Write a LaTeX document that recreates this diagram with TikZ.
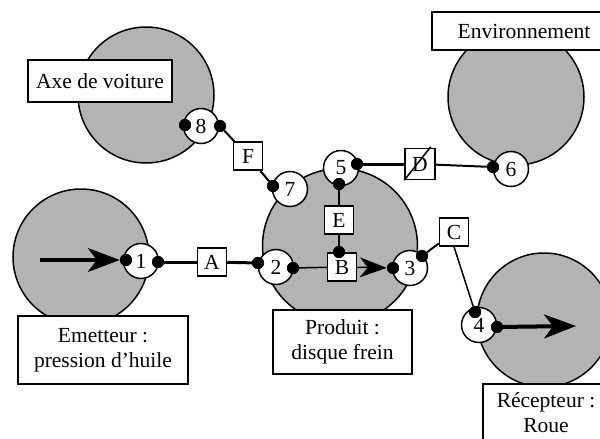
\documentclass[tikz,border=0pt]{standalone}
\usepackage{fontspec}
\setmainfont{Liberation Serif}
\usetikzlibrary{arrows.meta,calc}
\definecolor{disc}{RGB}{179,179,179}
\begin{document}
\begin{tikzpicture}[x=1pt,y=-1pt,
  bigc/.style={circle,draw,line width=1.5pt,fill=disc,inner sep=0pt},
  smallc/.style={circle,draw,line width=1.5pt,fill=white,minimum size=35pt,inner sep=0pt,font=\fontsize{21.5}{23}\selectfont},
  dot/.style={circle,fill=black,minimum size=12pt,inner sep=0pt},
  lbox/.style={draw,line width=1.5pt,fill=white,align=center,font=\fontsize{21.5}{25}\selectfont,inner sep=0pt},
  letter/.style={draw,line width=1.5pt,fill=white,minimum width=29pt,minimum height=28pt,inner sep=0pt,font=\fontsize{21.5}{23}\selectfont},
  thinl/.style={line width=1.5pt},
  medl/.style={line width=2pt},
  thickl/.style={line width=3pt},
  bigarrow/.style={line width=4pt,-{Stealth[length=32pt,width=24pt,inset=9pt]}},
  smallarrow/.style={line width=1.5pt,-{Stealth[length=27pt,width=20pt,inset=8pt]}},
]
\path[use as bounding box] (0,0) rectangle (600,439);

% big discs
\node[bigc,minimum size=136pt] (axe) at (146,95) {};
\node[bigc,minimum size=136pt] (env) at (516,97) {};
\node[bigc,minimum size=136pt] (emet) at (81,257) {};
\node[bigc,minimum size=155pt] (prod) at (340,246) {};
\node[bigc,minimum size=134pt] (rec) at (544,320) {};

% label boxes
\node[lbox,minimum width=144pt,minimum height=42pt] (laxe) at (100,81) {Axe de voiture};
\node[lbox,minimum width=184pt,minimum height=38pt] (lenv) at (524,31) {Environnement};
\node[lbox,minimum width=170pt,minimum height=68pt] (lemet) at (103,350) {Emetteur :\\pression d’huile};
\node[lbox,minimum width=139pt,minimum height=64pt] (lprod) at (342.5,342) {Produit :\\disque frein};
\node[lbox,minimum width=126pt,minimum height=58pt] (lrec) at (546,413) {Récepteur :\\Roue};

% small circles
\node[smallc] (c1) at (141,261) {1};
\node[smallc] (c2) at (276,267) {2};
\node[smallc] (c3) at (410,268) {3};
\node[smallc] (c4) at (479,325) {4};
\node[smallc] (c5) at (341,168) {5};
\node[smallc] (c6) at (511,169) {6};
\node[smallc] (c7) at (290,189) {7};
\node[smallc] (c8) at (201,126) {8};

% letter boxes
\node[letter] (A) at (212,262) {A};
\node[letter] (B) at (342,267) {B};
\node[letter] (C) at (454,232) {C};
\node[letter,minimum width=30pt,minimum height=31pt] (D) at (420,164) {D};
\node[letter] (E) at (339,220) {E};
\node[letter] (F) at (248,156) {F};

% dots
\node[dot] (d1l) at (126,260) {};
\node[dot] (d1r) at (158,262) {};
\node[dot] (d2l) at (258,263) {};
\node[dot] (d2r) at (293,268) {};
\node[dot] (d3l) at (393,268) {};
\node[dot] (d3r) at (422,256) {};
\node[dot] (d4l) at (475,312) {};
\node[dot] (d4r) at (497,327) {};
\node[dot] (d5r) at (357,164) {};
\node[dot] (d5b) at (339,184) {};
\node[dot] (d6) at (493,167) {};
\node[dot] (d7) at (273,186) {};
\node[dot] (d8l) at (185,125) {};
\node[dot] (d8r) at (220,126) {};
\node[dot] (dB) at (339,252) {};

\coordinate (emstart) at (40,260);
\coordinate (recend) at (576,326);

% connectors
\draw[bigarrow] (emstart) -- (d1l);
\draw[bigarrow] (d4r) -- (recend);
\draw[thickl] (d1r) -- (A);
\draw[thickl] (A) -- (d2l);
\draw[thinl] (d2r) -- (B);
\draw[smallarrow] (B) -- (d3l);
\draw[thinl] (d5b) -- (E);
\draw[thinl] (E) -- (dB);
\draw[thickl] (d5r) -- (D);
\draw[medl] (D) -- (d6);
\draw[medl] (d3r) -- (C);
\draw[thinl] (C.south) -- (d4l);
\draw[medl] (d8r) -- (F);
\draw[medl] (F) -- (d7);
\draw[thinl] (D.south west) -- ($(D.north east)+(-5,-1)$);

% dots on top of connectors
\foreach \d in {d1l,d1r,d2l,d2r,d3l,d3r,d4l,d4r,d5r,d5b,d6,d7,d8l,d8r,dB}
  \fill (\d) circle (6pt);
\end{tikzpicture}
\end{document}
